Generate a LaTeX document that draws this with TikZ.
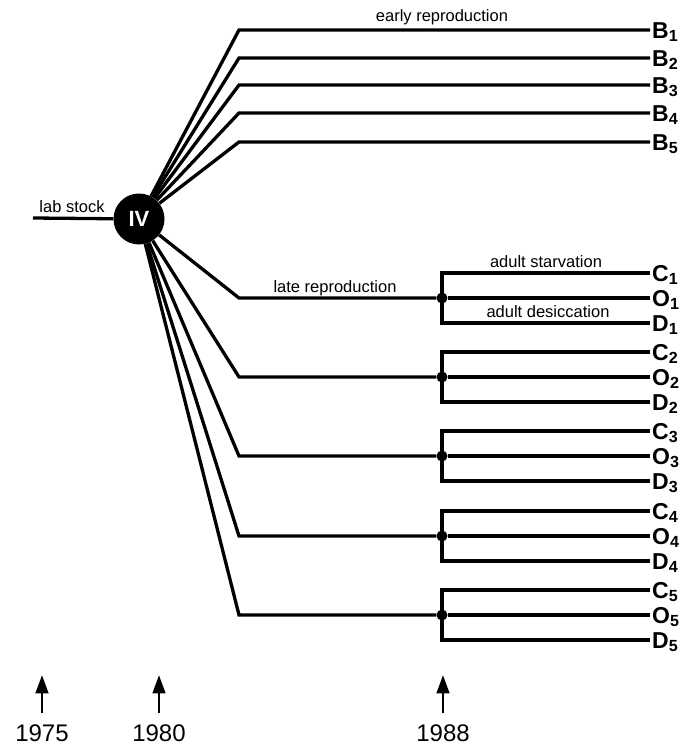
\documentclass[tikz,border=0pt]{standalone}
\usepackage{fontspec}
\setmainfont{Liberation Sans}
\usetikzlibrary{arrows.meta}
\usetikzlibrary{positioning}
\tikzset{branch/.style = {line width=3.3pt},
         leaf/.style = {anchor=west, inner xsep=2pt, inner ysep=0pt,
                        font=\fontsize{23}{27}\selectfont\bfseries,
                        text height=16.5pt, text depth=0pt},
         tag/.style = {anchor=base, font=\fontsize{16.5}{20}\selectfont},
         year/.style = {inner ysep=11pt, font=\fontsize{24}{28}\selectfont},
         fork/.style = {circle, fill, inner sep=0pt, minimum size=11pt},
         tick/.style = {line width=1.2pt, -{Triangle[length=18pt, width=13pt]}}}

\begin{document}
\begin{tikzpicture}[x=1pt, y=-1pt]
    \useasboundingbox (0, 0) rectangle (694, 746);

    \node [circle, fill, inner sep=0pt, minimum size=51pt, text=white,
           font=\fontsize{22}{26}\selectfont\bfseries] (stock) at (139, 219) {IV};
    \coordinate (source) at (33, 218);
    \draw [branch] (source) -- (stock);
    \node [tag] at (72, 212) {lab stock};

    % early reproduction lines
    \foreach \i/\y in {1/30, 2/58, 3/85, 4/113, 5/142} {
        \node [leaf] (B\i) at (650, \y) {B\textsubscript{\i}};
        \draw [branch] (stock) -- (239, \y) -- (B\i.west);
    }
    \node [tag] at (442, 22) {early reproduction};

    % late reproduction lines, each split in three
    \foreach \i/\y in {1/298, 2/377, 3/456, 4/536, 5/615} {
        \node [fork] (f\i) at (442, \y) {};
        \node [leaf] (C\i) at (650, \y - 25) {C\textsubscript{\i}};
        \node [leaf] (O\i) at (650, \y) {O\textsubscript{\i}};
        \node [leaf] (D\i) at (650, \y + 25) {D\textsubscript{\i}};
        \draw [branch] (stock) -- (239, \y) -- (f\i);
        \draw [branch] (C\i.west) -| (f\i.center) |- (D\i.west);
        \draw [branch] (f\i) -- (O\i.west);
    }
    \node [tag] at (335, 292) {late reproduction};
    \node [tag] at (546, 267) {adult starvation};
    \node [tag] at (548, 317) {adult desiccation};

    \foreach \yr/\x in {1975/42, 1980/159, 1988/443} {
        \node [year] (y\yr) at (\x, 733) {\yr};
        \draw [tick] (y\yr.north) -- ++(0, -38);
    }
\end{tikzpicture}
\end{document}
